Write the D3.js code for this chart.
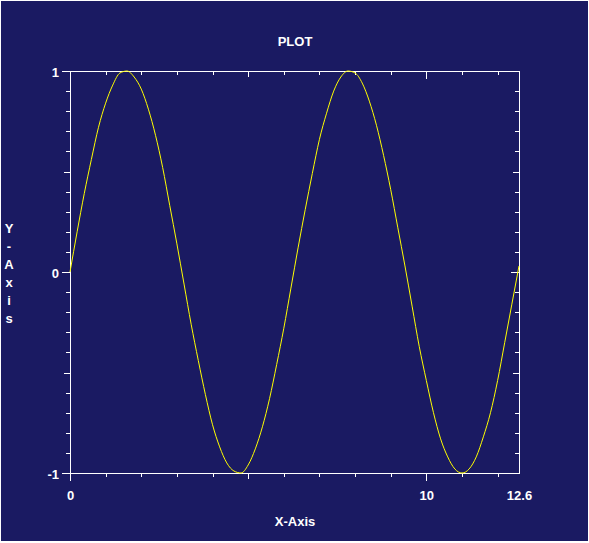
<!DOCTYPE html>
<html>
<head>
<meta charset="utf-8">
<script src="https://cdn.jsdelivr.net/npm/d3@7"></script>
<style>
  html, body { margin: 0; padding: 0; background: #ffffff; }
  svg { display: block; }
  text { font-family: "Liberation Sans", Arial, sans-serif; font-weight: bold; font-size: 13px; fill: #ffffff; }
</style>
</head>
<body>
<div id="chart"></div>
<script>
"use strict";

// curve samples (x step 0.2)
const xValues = [0, 0.2, 0.4, 0.6, 0.8, 1.0, 1.2, 1.4, 1.6, 1.8, 2.0, 2.2, 2.4, 2.6, 2.8, 3.0,
    3.2, 3.4, 3.6, 3.8, 4.0, 4.2, 4.4, 4.6, 4.8, 5.0, 5.2, 5.4, 5.6, 5.8, 6.0, 6.2,
    6.4, 6.6, 6.8, 7.0, 7.2, 7.4, 7.6, 7.8, 8.0, 8.2, 8.4, 8.6, 8.8, 9.0, 9.2, 9.4,
    9.6, 9.8, 10.0, 10.2, 10.4, 10.6, 10.8, 11.0, 11.2, 11.4, 11.6, 11.8, 12.0, 12.2, 12.4, 12.6];
const yValues = [0.00, 0.20, 0.39, 0.56, 0.72, 0.84, 0.93, 0.99, 1.00, 0.97, 0.91, 0.81, 0.68, 0.52, 0.33, 0.14,
    -0.06, -0.26, -0.44, -0.61, -0.76, -0.87, -0.95, -0.99, -1.00, -0.96, -0.88, -0.77, -0.63, -0.46, -0.28, -0.08,
    0.12, 0.31, 0.49, 0.66, 0.79, 0.90, 0.97, 1.00, 0.99, 0.94, 0.85, 0.73, 0.58, 0.41, 0.22, 0.03,
    -0.17, -0.37, -0.54, -0.70, -0.83, -0.92, -0.98, -1.00, -0.98, -0.92, -0.82, -0.70, -0.54, -0.35, -0.16, 0.03];

const xTickLabels = [0, 10, 12.6];
const yTickLabels = [-1, 0, 1];
const xMinorTicks = d3.range(0, 13);          // 0..12
const yMinorTicks = d3.range(-10, 11).map(k => k / 10);

const W = 589, H = 543;
const plot = { left: 70, right: 519, top: 71, bottom: 473 };

const svg = d3.select("#chart").append("svg")
    .attr("width", W)
    .attr("height", H);

svg.append("rect")
    .attr("x", 1).attr("y", 1)
    .attr("width", 587).attr("height", 540)
    .attr("fill", "#1a1a62");

const x = d3.scaleLinear().domain([0, 12.6]).range([plot.left, plot.right]);
const y = d3.scaleLinear().domain([-1, 1]).range([plot.bottom, plot.top]);

// tick length by level: every 10 / every 5 / others
function xLen(v) { return v % 10 === 0 ? 8 : (v % 5 === 0 ? 6 : 4); }
function yLen(v) {
    const k = Math.round(v * 10);
    return k % 10 === 0 ? 8 : (k % 5 === 0 ? 6 : 4);
}

function drawAxis(gen, values, lenFn, transform) {
    [4, 6, 8].forEach(len => {
        const g = svg.append("g")
            .attr("transform", transform)
            .call(gen.tickValues(values.filter(v => lenFn(v) === len))
                .tickSize(len).tickSizeOuter(0).tickFormat(""));
        g.select(".domain").remove();
        g.selectAll("line").attr("stroke", "#ffffff").attr("shape-rendering", "crispEdges");
    });
}

// bottom & left point outward, top & right point inward
drawAxis(d3.axisBottom(x), xMinorTicks, xLen, `translate(0,${plot.bottom})`);
drawAxis(d3.axisBottom(x), xMinorTicks, xLen, `translate(0,${plot.top})`);
drawAxis(d3.axisLeft(y), yMinorTicks, yLen, `translate(${plot.left},0)`);
drawAxis(d3.axisLeft(y), yMinorTicks, yLen, `translate(${plot.right},0)`);

// frame
svg.append("rect")
    .attr("x", plot.left + 0.5).attr("y", plot.top + 0.5)
    .attr("width", plot.right - plot.left).attr("height", plot.bottom - plot.top)
    .attr("fill", "none")
    .attr("stroke", "#ffffff")
    .attr("shape-rendering", "crispEdges");

// the sine curve
const pts = xValues.map((v, i) => [v, yValues[i]]);
svg.append("path")
    .datum(pts)
    .attr("fill", "none")
    .attr("stroke", "#ffff00")
    .attr("stroke-width", 1)
    .attr("d", d3.line().x(d => x(d[0])).y(d => y(d[1])).curve(d3.curveMonotoneX));

// tick labels
svg.selectAll(".xlab")
    .data(xTickLabels)
    .join("text")
    .attr("x", d => x(d) + 0.5)
    .attr("y", 500)
    .attr("text-anchor", "middle")
    .text(d => d);

svg.selectAll(".ylab")
    .data(yTickLabels)
    .join("text")
    .attr("x", 59)
    .attr("y", d => y(d) + 6)
    .attr("text-anchor", "end")
    .text(d => d);

// titles
svg.append("text")
    .attr("x", 295).attr("y", 46)
    .attr("text-anchor", "middle")
    .text("PLOT");

svg.append("text")
    .attr("x", 295).attr("y", 526)
    .attr("text-anchor", "middle")
    .text("X-Axis");

const yLetters = ["Y", "-", "A", "x", "i", "s"];
svg.selectAll(".yl")
    .data(yLetters)
    .join("text")
    .attr("x", 9)
    .attr("y", (d, i) => 233 + i * 18)
    .attr("text-anchor", "middle")
    .text(d => d);
</script>
</body>
</html>
